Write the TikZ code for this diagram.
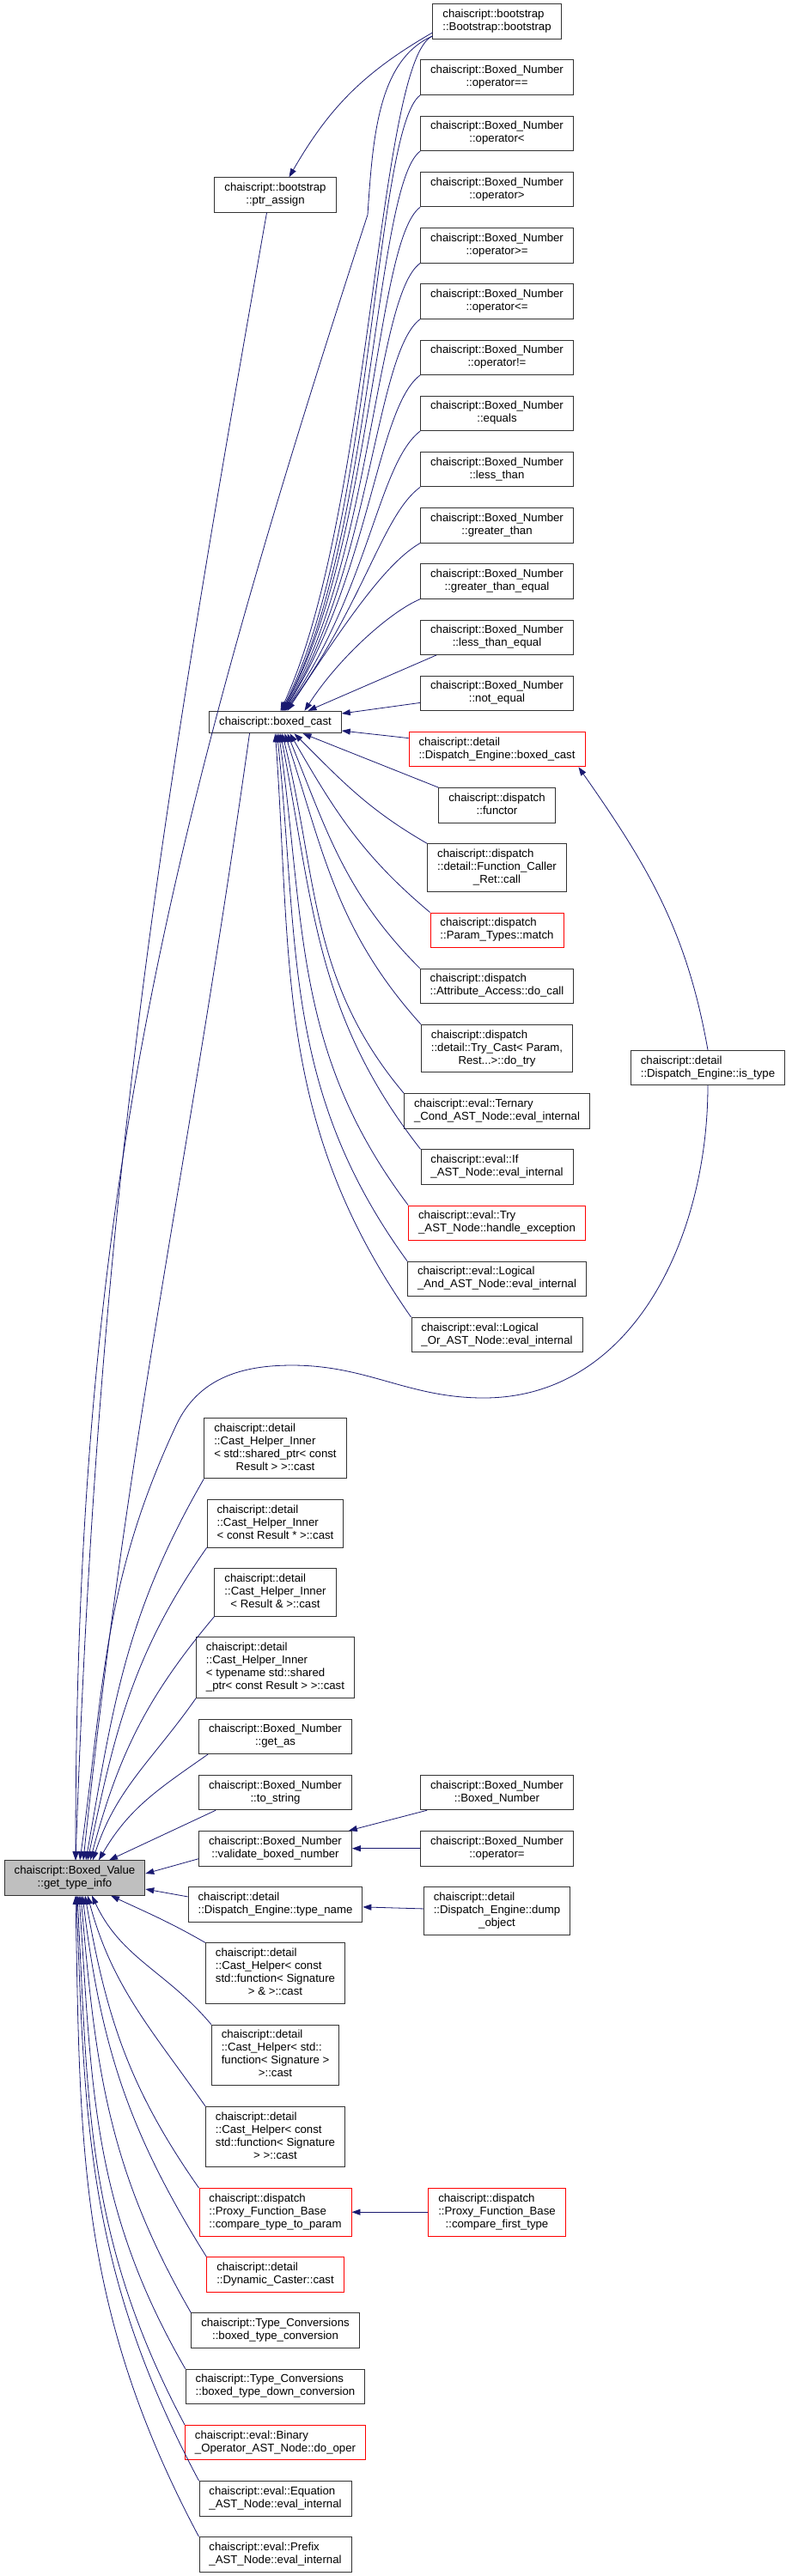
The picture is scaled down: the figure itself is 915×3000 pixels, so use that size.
\documentclass[tikz,border=0pt]{standalone}
\usepackage{fontspec}
\setmainfont{Liberation Sans}
\usetikzlibrary{arrows.meta, positioning}
\definecolor{navy}{HTML}{191970}
\newcommand{\fnlabel}[1]{\begin{tabular}{@{}l@{}}#1\end{tabular}}
\newcommand{\fnlast}[1]{\multicolumn{1}{@{}c@{}}{#1}}
\tikzset{
  box/.style={rectangle,draw=black!80,line width=0.9pt,fill=white,inner xsep=11.5pt,inner ysep=5.25pt,font=\fontsize{13.2}{15}\selectfont},
  redbox/.style={box,draw=red},
  mainbox/.style={box,fill=black!25},
  line/.style={-{Triangle[length=10pt,width=7pt]},draw=navy,line width=0.8pt}
}

\begin{document}
\begin{tikzpicture}[x=1pt,y=1pt,node distance=23.8pt]
\useasboundingbox (0,0) rectangle (915,-3000);
% callers of boxed_cast
\node[box] (bootstrap) at (578.5,-25) {\fnlabel{chaiscript::bootstrap\\::Bootstrap::bootstrap}};
\node[box, below=of bootstrap] (opeq) {\fnlabel{chaiscript::Boxed\_Number\\\fnlast{::operator==}}};
\node[box, below=of opeq] (oplt) {\fnlabel{chaiscript::Boxed\_Number\\\fnlast{::operator<}}};
\node[box, below=of oplt] (opgt) {\fnlabel{chaiscript::Boxed\_Number\\\fnlast{::operator>}}};
\node[box, below=of opgt] (opge) {\fnlabel{chaiscript::Boxed\_Number\\\fnlast{::operator>=}}};
\node[box, below=of opge] (ople) {\fnlabel{chaiscript::Boxed\_Number\\\fnlast{::operator<=}}};
\node[box, below=of ople] (opne) {\fnlabel{chaiscript::Boxed\_Number\\\fnlast{::operator!=}}};
\node[box, below=of opne] (equals) {\fnlabel{chaiscript::Boxed\_Number\\\fnlast{::equals}}};
\node[box, below=of equals] (lessthan) {\fnlabel{chaiscript::Boxed\_Number\\\fnlast{::less\_than}}};
\node[box, below=of lessthan] (greaterthan) {\fnlabel{chaiscript::Boxed\_Number\\\fnlast{::greater\_than}}};
\node[box, below=of greaterthan] (gte) {\fnlabel{chaiscript::Boxed\_Number\\\fnlast{::greater\_than\_equal}}};
\node[box, below=of gte] (lte) {\fnlabel{chaiscript::Boxed\_Number\\\fnlast{::less\_than\_equal}}};
\node[box, below=of lte] (noteq) {\fnlabel{chaiscript::Boxed\_Number\\\fnlast{::not\_equal}}};
\node[redbox, below=of noteq] (debc) {\fnlabel{chaiscript::detail\\::Dispatch\_Engine::boxed\_cast}};
\node[box, below=of debc] (functor) {\fnlabel{chaiscript::dispatch\\\fnlast{::functor}}};
\node[box, below=of functor] (fcret) {\fnlabel{chaiscript::dispatch\\::detail::Function\_Caller\\\fnlast{\_Ret::call}}};
\node[redbox, below=of fcret] (ptmatch) {\fnlabel{chaiscript::dispatch\\::Param\_Types::match}};
\node[box, below=of ptmatch] (attr) {\fnlabel{chaiscript::dispatch\\::Attribute\_Access::do\_call}};
\node[box, below=of attr] (trycast) {\fnlabel{chaiscript::dispatch\\::detail::Try\_Cast< Param,\\\fnlast{Rest...>::do\_try}}};
\node[box, below=of trycast] (ternary) {\fnlabel{chaiscript::eval::Ternary\\\_Cond\_AST\_Node::eval\_internal}};
\node[box, below=of ternary] (ifnode) {\fnlabel{chaiscript::eval::If\\\_AST\_Node::eval\_internal}};
\node[redbox, below=of ifnode] (trynode) {\fnlabel{chaiscript::eval::Try\\\_AST\_Node::handle\_exception}};
\node[box, below=of trynode] (logand) {\fnlabel{chaiscript::eval::Logical\\\_And\_AST\_Node::eval\_internal}};
\node[box, below=of logand] (logor) {\fnlabel{chaiscript::eval::Logical\\\_Or\_AST\_Node::eval\_internal}};
\node[box] (istype) at (824,-1243.5) {\fnlabel{chaiscript::detail\\::Dispatch\_Engine::is\_type}};
\node[box] (ptrassign) at (320.5,-227) {\fnlabel{chaiscript::bootstrap\\\fnlast{::ptr\_assign}}};
\node[box] (boxedcast) at (320.5,-841) {\fnlabel{chaiscript::boxed\_cast}};
% callers of get_type_info
\node[box] (chi1) at (320.5,-1686.5) {\fnlabel{chaiscript::detail\\::Cast\_Helper\_Inner\\< std::shared\_ptr< const\\\fnlast{Result > >::cast}}};
\node[box, below=of chi1] (chi2) {\fnlabel{chaiscript::detail\\::Cast\_Helper\_Inner\\< const Result * >::cast}};
\node[box, below=of chi2] (chi3) {\fnlabel{chaiscript::detail\\::Cast\_Helper\_Inner\\\fnlast{< Result \& >::cast}}};
\node[box, below=of chi3] (chi4) {\fnlabel{chaiscript::detail\\::Cast\_Helper\_Inner\\< typename std::shared\\\_ptr< const Result > >::cast}};
\node[box, below=of chi4] (getas) {\fnlabel{chaiscript::Boxed\_Number\\\fnlast{::get\_as}}};
\node[box, below=of getas] (tostring) {\fnlabel{chaiscript::Boxed\_Number\\\fnlast{::to\_string}}};
\node[box, below=of tostring] (validate) {\fnlabel{chaiscript::Boxed\_Number\\\fnlast{::validate\_boxed\_number}}};
\node[box, below=of validate] (typename) {\fnlabel{chaiscript::detail\\::Dispatch\_Engine::type\_name}};
\node[box, below=of typename] (ch1) {\fnlabel{chaiscript::detail\\::Cast\_Helper< const\\\fnlast{std::function< Signature}\\\fnlast{> \& >::cast}}};
\node[box, below=of ch1] (ch2) {\fnlabel{chaiscript::detail\\::Cast\_Helper< std::\\function< Signature >\\\fnlast{>::cast}}};
\node[box, below=of ch2] (ch3) {\fnlabel{chaiscript::detail\\::Cast\_Helper< const\\\fnlast{std::function< Signature}\\\fnlast{> >::cast}}};
\node[redbox, below=of ch3] (cttp) {\fnlabel{chaiscript::dispatch\\::Proxy\_Function\_Base\\::compare\_type\_to\_param}};
\node[redbox, below=of cttp] (dyncast) {\fnlabel{chaiscript::detail\\::Dynamic\_Caster::cast}};
\node[box, below=of dyncast] (btc) {\fnlabel{chaiscript::Type\_Conversions\\\fnlast{::boxed\_type\_conversion}}};
\node[box, below=of btc] (btdc) {\fnlabel{chaiscript::Type\_Conversions\\::boxed\_type\_down\_conversion}};
\node[redbox, below=of btdc] (binop) {\fnlabel{chaiscript::eval::Binary\\\_Operator\_AST\_Node::do\_oper}};
\node[box, below=of binop] (equation) {\fnlabel{chaiscript::eval::Equation\\\_AST\_Node::eval\_internal}};
\node[box, below=of equation] (prefix) {\fnlabel{chaiscript::eval::Prefix\\\_AST\_Node::eval\_internal}};
\node[box] (bnctor) at (bootstrap |- tostring) {\fnlabel{chaiscript::Boxed\_Number\\\fnlast{::Boxed\_Number}}};
\node[box] (bnassign) at (bootstrap |- validate) {\fnlabel{chaiscript::Boxed\_Number\\\fnlast{::operator=}}};
\node[box, anchor=north] (dumpobj) at (bootstrap |- typename.north) {\fnlabel{chaiscript::detail\\::Dispatch\_Engine::dump\\\fnlast{\_object}}};
\node[redbox] (cft) at (bootstrap |- cttp) {\fnlabel{chaiscript::dispatch\\::Proxy\_Function\_Base\\\fnlast{::compare\_first\_type}}};
\node[mainbox] (gti) at (87,-2187) {\fnlabel{chaiscript::Boxed\_Value\\\fnlast{::get\_type\_info}}};

% bootstrap
\draw[line] ([yshift=-13]bootstrap.west) .. controls +(210:93pt) and +(60:93pt) .. ([xshift=16]ptrassign.north);
\draw[line] ([yshift=-17]bootstrap.west) .. controls (440,-70) and (432,-600) .. ([xshift=6]boxedcast.north);
\draw[line] ([yshift=-17]bootstrap.west) .. controls (440,-70) and (434,-160) .. (428,-250) .. controls +(-108:762pt) and +(90:762pt) .. ([xshift=1]gti.north);
% into boxed_cast from above
\draw[line] (opeq.south west) .. controls (436,-150) and (434,-620) .. ([xshift=7]boxedcast.north);
\draw[line] (oplt.south west) .. controls (436,-215) and (434,-630) .. ([xshift=8]boxedcast.north);
\draw[line] (opgt.south west) .. controls (436,-280) and (433,-640) .. ([xshift=8]boxedcast.north);
\draw[line] (opge.south west) .. controls (436,-345) and (433,-650) .. ([xshift=9]boxedcast.north);
\draw[line] (ople.south west) .. controls (437,-410) and (432,-660) .. ([xshift=10]boxedcast.north);
\draw[line] (opne.south west) .. controls (438,-475) and (431,-670) .. ([xshift=10]boxedcast.north);
\draw[line] (equals.south west) .. controls (440,-540) and (430,-685) .. ([xshift=11]boxedcast.north);
\draw[line] (lessthan.south west) .. controls (445,-600) and (425,-700) .. ([xshift=12]boxedcast.north);
\draw[line] (greaterthan.south west) .. controls (450,-655) and (405,-720) .. ([xshift=14]boxedcast.north);
\draw[line] (gte.south west) .. controls (455,-712) and (395,-765) .. ([xshift=34]boxedcast.north);
\draw[line] ([xshift=19]lte.south west) -- ([xshift=38]boxedcast.north);
\draw[line] ([yshift=-11]noteq.west) -- ([yshift=10]boxedcast.east);
\draw[line] ([yshift=13]debc.west) -- ([yshift=-10]boxedcast.east);
% into boxed_cast from below
\draw[line] (functor.north west) -- ([xshift=32]boxedcast.south);
\draw[line] (fcret.north west) .. controls +(150:79pt) and +(-45:79pt) .. ([xshift=22]boxedcast.south);
\draw[line] (ptmatch.north west) .. controls +(140:104pt) and +(-60:104pt) .. ([xshift=17]boxedcast.south);
\draw[line] (attr.north west) .. controls +(135:123pt) and +(-68:123pt) .. ([xshift=14]boxedcast.south);
\draw[line] (trycast.north west) .. controls +(132:146pt) and +(-72:146pt) .. ([xshift=11]boxedcast.south);
\draw[line] (ternary.north west) .. controls +(130:173pt) and +(-76:173pt) .. ([xshift=8]boxedcast.south);
\draw[line] (ifnode.north west) .. controls +(128:200pt) and +(-79:200pt) .. ([xshift=6]boxedcast.south);
\draw[line] (trynode.north west) .. controls +(127:223pt) and +(-82:223pt) .. ([xshift=4]boxedcast.south);
\draw[line] (logand.north west) .. controls +(126:248pt) and +(-84:248pt) .. ([xshift=2]boxedcast.south);
\draw[line] (logor.north west) .. controls +(125:274pt) and +(-86:274pt) .. (boxedcast.south);
% is_type
\draw[line] (istype.north) .. controls +(100:141pt) and +(-55:141pt) .. ([xshift=-8]debc.south east);
\draw[line] (istype.south) .. controls +(-90:175pt) and +(0:175pt) .. (563,-1628)
  .. controls +(180:88pt) and +(0:88pt) .. (340,-1590)
  .. controls +(180:60pt) and +(65:60pt) .. (205,-1660)
  .. controls +(-115:203pt) and +(82:203pt) .. ([xshift=6]gti.north);
% into get_type_info from above
\draw[line] ([xshift=-10]ptrassign.south) .. controls +(-100:757pt) and +(88:757pt) .. ([xshift=1]gti.north);
\draw[line] ([xshift=-30]boxedcast.south) .. controls +(-98:520pt) and +(84:520pt) .. ([xshift=10]gti.north);
\draw[line] (chi1.south west) .. controls +(240:183pt) and +(80:183pt) .. ([xshift=13]gti.north);
\draw[line] (chi2.south west) .. controls +(235:152pt) and +(78:152pt) .. ([xshift=15]gti.north);
\draw[line] (chi3.south west) .. controls +(230:125pt) and +(75:125pt) .. ([xshift=18]gti.north);
\draw[line] (chi4.south west) .. controls +(235:88pt) and +(72:88pt) .. ([xshift=21]gti.north);
\draw[line] ([xshift=11]getas.south west) .. controls +(215:70pt) and +(60:70pt) .. ([xshift=28]gti.north);
\draw[line] ([xshift=20]tostring.south west) -- ([xshift=40]gti.north);
\draw[line] ([yshift=-12]validate.west) -- ([yshift=5]gti.east);
\draw[line] ([yshift=9]typename.west) -- ([yshift=-13]gti.east);
% into get_type_info from below
\draw[line] (ch1.north west) .. controls +(150:48pt) and +(-25:48pt) .. ([xshift=42]gti.south);
\draw[line] (ch2.north west) .. controls +(130:81pt) and +(-65:81pt) .. ([xshift=20]gti.south);
\draw[line] (ch3.north west) .. controls +(125:110pt) and +(-75:110pt) .. ([xshift=15]gti.south);
\draw[line] (cttp.north west) .. controls +(125:143pt) and +(-80:143pt) .. ([xshift=12]gti.south);
\draw[line] (dyncast.north west) .. controls +(122:174pt) and +(-83:174pt) .. ([xshift=9]gti.south);
\draw[line] (btc.north west) .. controls +(120:197pt) and +(-85:197pt) .. ([xshift=7]gti.south);
\draw[line] (btdc.north west) .. controls +(120:221pt) and +(-86:221pt) .. ([xshift=5]gti.south);
\draw[line] (binop.north west) .. controls +(118:246pt) and +(-87:246pt) .. ([xshift=3]gti.south);
\draw[line] (equation.north west) .. controls +(118:273pt) and +(-88:273pt) .. ([xshift=2]gti.south);
\draw[line] (prefix.north west) .. controls +(118:298pt) and +(-89:298pt) .. ([xshift=1]gti.south);
% second level callers
\draw[line] ([xshift=8]bnctor.south west) -- ([xshift=-4]validate.north east);
\draw[line] (bnassign) -- (validate);
\draw[line] (dumpobj) -- (typename);
\draw[line] (cft) -- (cttp);
\end{tikzpicture}
\end{document}
